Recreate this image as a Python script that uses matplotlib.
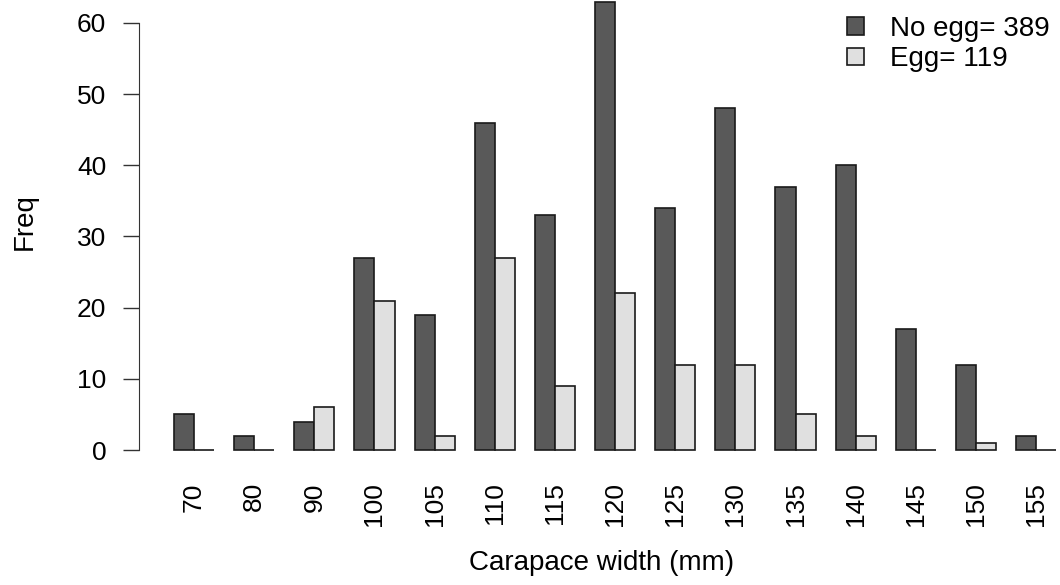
import matplotlib
matplotlib.use("Agg")
import matplotlib.pyplot as plt
import numpy as np

plt.rcParams['font.family'] = ['Liberation Sans', 'DejaVu Sans']

widths = ['70', '80', '90', '100', '105', '110', '115', '120', '125', '130', '135', '140', '145', '150', '155']
no_egg = [5, 2, 4, 27, 19, 46, 33, 63, 34, 48, 37, 40, 17, 12, 2]
egg = [0, 0, 6, 21, 2, 27, 9, 22, 12, 12, 5, 2, 0, 1, 0]

dark, light = '#595959', '#e0e0e0'

fig = plt.figure(figsize=(10.6, 5.85), dpi=100)
W, H = 1060, 585
# axes placed in pixels: left 139, right 1060, top 0, bottom 460
ax = fig.add_axes([139 / W, (H - 460) / H, (1060 - 139) / W, 460 / H])

# R barplot(beside=TRUE) style: bars of width 1, one empty unit between groups
grp = np.arange(len(widths)) * 3
ax.bar(grp + 1, no_egg, width=1, align='edge', color=dark, edgecolor='#1a1a1a',
       linewidth=1.2, label='No egg= %d' % sum(no_egg), clip_on=False)
ax.bar(grp + 2, egg, width=1, align='edge', color=light, edgecolor='#1a1a1a',
       linewidth=1.2, label='Egg= %d' % sum(egg), clip_on=False)

ax.set_xlim(-0.745, 45.19)
ax.set_ylim(-10 / 7.117, 450 / 7.117)

for s in ['top', 'right', 'bottom']:
    ax.spines[s].set_visible(False)
ax.spines['left'].set_bounds(0, 60)
ax.spines['left'].set_color('#333333')
ax.set_yticks(range(0, 61, 10))
ax.tick_params(axis='y', length=11.5, width=1, color='#333333', labelsize=19, pad=12)
ax.set_xticks(grp + 2)
ax.set_xticklabels(widths, rotation=90, fontsize=19)
ax.tick_params(axis='x', length=0, pad=16)

fig.text(602 / W, 1 - 563 / H, 'Carapace width (mm)', ha='center', va='center', fontsize=20)
fig.text(25 / W, 1 - 222 / H, 'Freq', ha='center', va='center', rotation=90, fontsize=20)

leg = ax.legend(loc='upper left', bbox_to_anchor=((847 - 139) / (1060 - 139), 1.0 - 16 / 460),
                frameon=False, fontsize=20, handlelength=0.6, handleheight=0.6,
                handletextpad=0.95, labelspacing=0.15, borderaxespad=0, borderpad=0)

fig.savefig('out.png', dpi=100)
